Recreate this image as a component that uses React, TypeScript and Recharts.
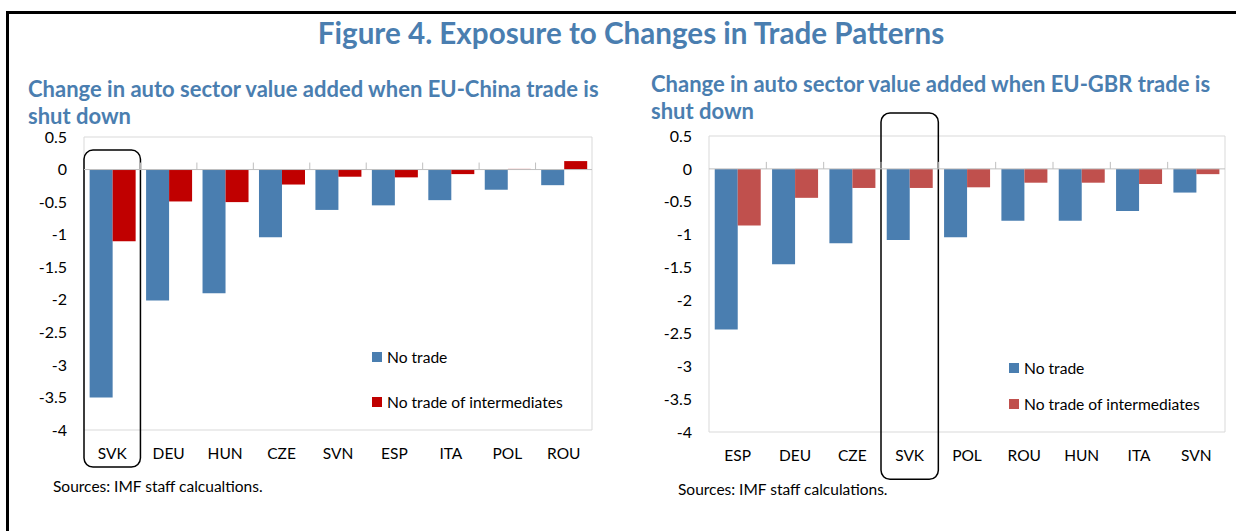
import React from 'react';
import { BarChart, Bar, XAxis, YAxis, ReferenceLine, ReferenceArea, Legend } from 'recharts';

// EU-China shutdown panel
const chinaCountries = ['SVK', 'DEU', 'HUN', 'CZE', 'SVN', 'ESP', 'ITA', 'POL', 'ROU'];
const chinaNoTrade = [-3.5, -2.01, -1.9, -1.04, -0.62, -0.55, -0.47, -0.31, -0.24];
const chinaNoIntermediates = [-1.1, -0.49, -0.5, -0.23, -0.11, -0.12, -0.07, 0.01, 0.13];

// EU-GBR shutdown panel
const gbrCountries = ['ESP', 'DEU', 'CZE', 'SVK', 'POL', 'ROU', 'HUN', 'ITA', 'SVN'];
const gbrNoTrade = [-2.44, -1.45, -1.13, -1.08, -1.04, -0.79, -0.79, -0.64, -0.36];
const gbrNoIntermediates = [-0.86, -0.44, -0.29, -0.29, -0.28, -0.21, -0.21, -0.23, -0.08];

const yTicks = [0.5, 0, -0.5, -1, -1.5, -2, -2.5, -3, -3.5, -4];
const seriesNames = ['No trade', 'No trade of intermediates'];

const BLUE = '#4A7EB0';
const FONT = 'Lato, "Open Sans", sans-serif';

type PanelProps = {
  title: string[];
  countries: string[];
  noTrade: number[];
  noInter: number[];
  redColor: string;
  left: number;
  width: number;
  margin: { top: number; right: number; bottom: number; left: number };
  highlight: string;
  boxTop: number;
  boxBottom: number;
  titlePos: { left: number; top: number };
  legendPos: { left: number; top: number; gap: number };
  source: string;
  sourcePos: { left: number; top: number };
};

const zeroAxis = (n: number) => (p: any) => {
  const step = (p.x2 - p.x1) / n;
  return (
    <g>
      <line x1={p.x1} y1={p.y1} x2={p.x2} y2={p.y2} stroke="#BFBFBF" strokeWidth={1} />
      {Array.from({ length: n - 1 }, (_, i) => (
        <line
          key={i}
          x1={p.x1 + step * (i + 1)}
          x2={p.x1 + step * (i + 1)}
          y1={p.y1}
          y2={p.y1 - 7}
          stroke="#BFBFBF"
          strokeWidth={1}
        />
      ))}
    </g>
  );
};

const roundedBox = (p: any) => (
  <rect x={p.x} y={p.y} width={p.width} height={p.height} rx={9} ry={9} fill="none" stroke="#000" strokeWidth={1.5} />
);

function Panel(props: PanelProps) {
  const data = props.countries.map((c, i) => ({
    country: c,
    noTrade: props.noTrade[i],
    noInter: props.noInter[i],
  }));

  const renderLegend = (lp: any) => (
    <div style={{ fontFamily: FONT, fontSize: 15.6, color: '#000' }}>
      {(lp.payload || []).map((entry: any, i: number) => (
        <div
          key={i}
          style={{ display: 'flex', alignItems: 'center', height: 20, marginBottom: i === 0 ? props.legendPos.gap - 20 : 0 }}
        >
          <span style={{ width: 10, height: 10, background: entry.color, marginRight: 5, display: 'inline-block' }} />
          <span>{entry.value}</span>
        </div>
      ))}
    </div>
  );

  return (
    <div style={{ position: 'absolute', left: props.left, top: 0, width: props.width, height: 531 }}>
      <div
        style={{
          position: 'absolute',
          left: props.titlePos.left,
          top: props.titlePos.top,
          fontFamily: FONT,
          fontWeight: 700,
          fontSize: 22,
          lineHeight: '27px',
          color: BLUE,
          whiteSpace: 'nowrap',
        }}
      >
        {props.title.map((t, i) => (
          <div key={i}>{t}</div>
        ))}
      </div>
      <BarChart
        width={props.width}
        height={531}
        data={data}
        margin={props.margin}
        barCategoryGap="10%"
        barGap={0}
      >
        <ReferenceArea y1={-4} y2={0.5} fill="none" stroke="#D9D9D9" strokeWidth={1} />
        <XAxis
          dataKey="country"
          axisLine={false}
          tickLine={false}
          interval={0}
          height={30}
          tickMargin={12}
          tick={{ fontSize: 15.5, fill: '#000', fontFamily: FONT }}
        />
        <YAxis
          domain={[-4, 0.5]}
          ticks={yTicks}
          width={60}
          axisLine={false}
          tickLine={false}
          tickMargin={11}
          interval={0}
          tick={{ fontSize: 16, fill: '#000', fontFamily: FONT }}
        />
        <Bar dataKey="noTrade" name={seriesNames[0]} fill={BLUE} isAnimationActive={false} />
        <Bar dataKey="noInter" name={seriesNames[1]} fill={props.redColor} isAnimationActive={false} />
        <ReferenceLine y={0} shape={zeroAxis(props.countries.length)} />
        <ReferenceArea
          x1={props.highlight}
          x2={props.highlight}
          y1={props.boxTop}
          y2={props.boxBottom}
          ifOverflow="visible"
          shape={roundedBox}
        />
        <Legend
          layout="vertical"
          align="center"
          verticalAlign="middle"
          content={renderLegend}
          wrapperStyle={{ left: props.legendPos.left, top: props.legendPos.top, width: 'auto' }}
        />
      </BarChart>
      <div
        style={{
          position: 'absolute',
          left: props.sourcePos.left,
          top: props.sourcePos.top,
          fontFamily: FONT,
          fontSize: 15.5,
          color: '#000',
          whiteSpace: 'nowrap',
        }}
      >
        {props.source}
      </div>
    </div>
  );
}

export default function App() {
  return (
    <div style={{ position: 'absolute', left: 0, top: 0, width: 1236, height: 531, background: '#fff', overflow: 'hidden' }}>
      <div style={{ position: 'absolute', left: 6, top: 11, width: 1230, height: 3, background: '#000' }} />
      <div style={{ position: 'absolute', left: 6, top: 11, width: 3, height: 520, background: '#000' }} />
      <div
        style={{
          position: 'absolute',
          left: 0,
          width: 1262,
          top: 14,
          textAlign: 'center',
          fontFamily: FONT,
          fontWeight: 700,
          fontSize: 29.6,
          lineHeight: '38px',
          color: BLUE,
        }}
      >
        Figure 4. Exposure to Changes in Trade Patterns
      </div>
      <Panel
        title={['Change in auto sector value added when EU-China trade is', 'shut down']}
        countries={chinaCountries}
        noTrade={chinaNoTrade}
        noInter={chinaNoIntermediates}
        redColor="#C00000"
        left={0}
        width={610}
        margin={{ top: 137, right: 18, bottom: 71, left: 24 }}
        highlight="SVK"
        boxTop={0.3}
        boxBottom={-4.57}
        titlePos={{ left: 28, top: 75 }}
        legendPos={{ left: 372, top: 347, gap: 45 }}
        source="Sources: IMF staff calcualtions."
        sourcePos={{ left: 53, top: 477 }}
      />
      <Panel
        title={['Change in auto sector value added when EU-GBR trade is', 'shut down']}
        countries={gbrCountries}
        noTrade={gbrNoTrade}
        noInter={gbrNoIntermediates}
        redColor="#C0504D"
        left={620}
        width={616}
        margin={{ top: 136, right: 11, bottom: 69, left: 29 }}
        highlight="SVK"
        boxTop={0.85}
        boxBottom={-4.72}
        titlePos={{ left: 31, top: 70 }}
        legendPos={{ left: 389, top: 358, gap: 36 }}
        source="Sources: IMF staff calculations."
        sourcePos={{ left: 58, top: 480 }}
      />
    </div>
  );
}
